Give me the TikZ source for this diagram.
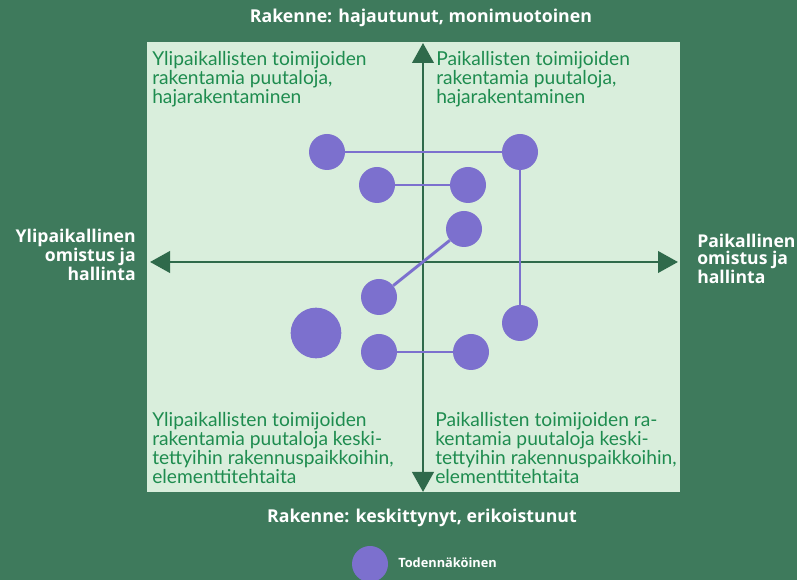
\documentclass[tikz,border=0pt]{standalone}
\usepackage{fontspec}
\setmainfont{Lato}
\newfontfamily\labfont{Open Sans}
\usetikzlibrary{arrows.meta}
\definecolor{bg}{HTML}{3E7A5C}
\definecolor{panel}{HTML}{D9EEDC}
\definecolor{axiscol}{HTML}{2F6A4B}
\definecolor{qtext}{HTML}{1E8C4F}
\definecolor{dotcol}{HTML}{7C70CE}
\tikzset{
  axisline/.style={draw=axiscol, line width=2.2pt, {Triangle[length=15pt,width=16pt]}-{Triangle[length=15pt,width=16pt]}},
  dotc/.style={circle, fill=dotcol, inner sep=0pt, minimum size=27pt},
  bigdot/.style={dotc, minimum size=38pt},
  link/.style={draw=dotcol, line width=2.2pt},
  quad/.style={anchor=north west, inner sep=0pt, align=left, text=qtext, font=\fontsize{14.4}{14.3}\selectfont},
  head/.style={text=white, inner sep=0pt, font=\labfont\bfseries\fontsize{13.3}{13}\selectfont},
  side/.style={text=white, inner sep=0pt, font=\labfont\bfseries\fontsize{13.2}{12.8}\selectfont}
}
\begin{document}
\begin{tikzpicture}[x=0.75pt,y=-0.75pt]
\fill[bg] (0,0) rectangle (797,580);
\useasboundingbox (0,0) rectangle (797,580);
\fill[panel] (147,42) rectangle (680,492);
\coordinate (L) at (150,262);
\coordinate (R) at (678,262);
\coordinate (T) at (423,43);
\coordinate (B) at (423,492);
\draw[axisline] (L) -- (R);
\draw[axisline] (B) -- (T);
\node[quad] (q1) at (152,51) {Ylipaikallisten toimijoiden\\rakentamia puutaloja,\\hajarakentaminen};
\node[quad] (q2) at (436,51) {Paikallisten toimijoiden\\rakentamia puutaloja,\\hajarakentaminen};
\node[quad] (q3) at (152,412) {Ylipaikallisten toimijoiden\\rakentamia puutaloja keski-\\tettyihin rakennuspaikkoihin,\\elementtitehtaita};
\node[quad] (q4) at (435,412) {Paikallisten toimijoiden ra-\\kentamia puutaloja keski-\\tettyihin rakennuspaikkoihin,\\elementtitehtaita};
\node[dotc] (A) at (327,152) {};
\node[dotc] (Bd) at (520,152) {};
\node[dotc] (C) at (377,185) {};
\node[dotc] (D) at (468,185) {};
\node[dotc] (E) at (464,229) {};
\node[dotc] (F) at (379,297) {};
\node[bigdot] (G) at (316,333) {};
\node[dotc] (H) at (520,323) {};
\node[dotc] (I) at (379,352) {};
\node[dotc] (J) at (471,352) {};
\draw[link] (A) -- (Bd);
\draw[link] (C) -- (D);
\draw[link] (E) -- (F);
\draw[link] (Bd) -- (H);
\draw[link] (I) -- (J);
\node[head] (top) at (421,18) {Rakenne: hajautunut, monimuotoinen};
\node[head] (bot) at (422,518) {Rakenne: keskittynyt, erikoistunut};
\node[side, anchor=east, align=right] (left) at (136,255) {Ylipaikallinen\\omistus ja\\hallinta};
\node[side, anchor=west, align=left] (right) at (697,259) {Paikallinen\\omistus ja\\hallinta};
\node[dotc] (leg) at (370,564) {};
\node[text=white, inner sep=0pt, anchor=west, font=\labfont\bfseries\fontsize{9.6}{10}\selectfont] (legt) at (398,563) {Todennäköinen};
\end{tikzpicture}
\end{document}
